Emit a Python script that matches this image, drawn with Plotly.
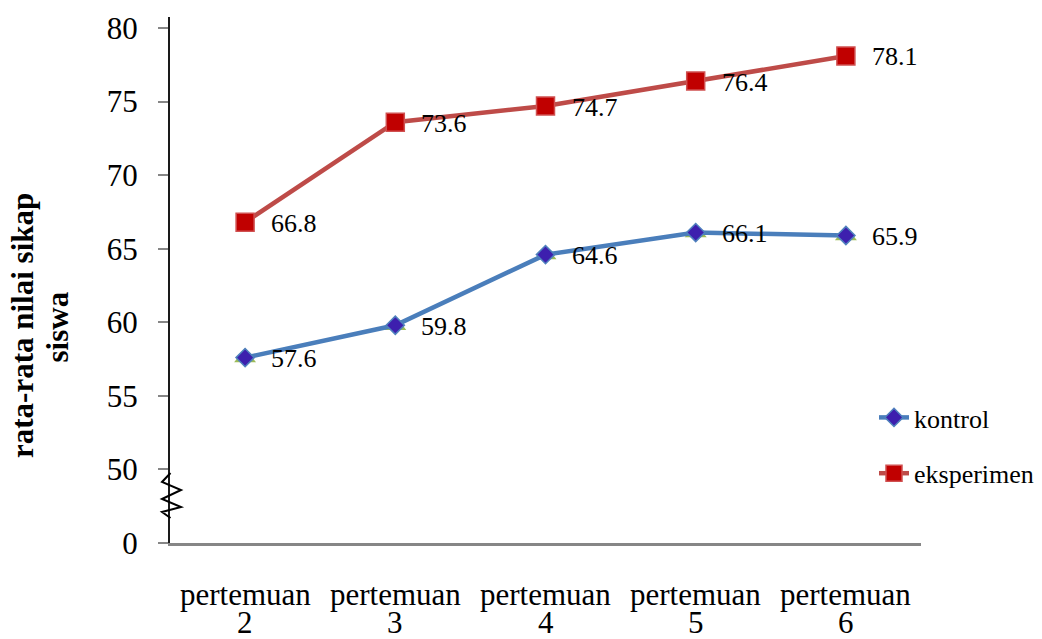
import plotly.graph_objects as go

categories = ["pertemuan 2", "pertemuan 3", "pertemuan 4", "pertemuan 5", "pertemuan 6"]
kontrol = [57.6, 59.8, 64.6, 66.1, 65.9]
eksperimen = [66.8, 73.6, 74.7, 76.4, 78.1]
ytick_vals = [45, 50, 55, 60, 65, 70, 75, 80]
ytick_text = ["0", "50", "55", "60", "65", "70", "75", "80"]

FONT = "Liberation Serif, Times New Roman, serif"
# page has an 8px body margin; figure is sized/offset to compensate
OFF = 8
W, H = 1042 - OFF, 639 - OFF
ML, MR, MT, MB = 170 - OFF, 121, 17 - OFF, 96
PW, PH = W - ML - MR, H - MT - MB


def px(x):
    """reference pixel x -> paper"""
    return (x - OFF - ML) / PW


def py(y):
    """reference pixel y -> paper"""
    return (H - MB - (y - OFF)) / PH


fig = go.Figure()

# hidden green triangle series sitting behind kontrol
fig.add_trace(go.Scatter(
    x=categories, y=kontrol, mode="markers", showlegend=False,
    marker=dict(symbol="triangle-up", size=19, color="#9bbb59", line=dict(width=0)),
    hoverinfo="skip"))

fig.add_trace(go.Scatter(
    x=categories, y=kontrol, mode="lines+markers", name="kontrol", legendgroup="a",
    line=dict(color="#4a7ebb", width=4.5),
    marker=dict(symbol="diamond", size=14, color="#3d1fae", line=dict(color="#4f81bd", width=1.5))))

fig.add_trace(go.Scatter(
    x=categories, y=eksperimen, mode="lines+markers", name="eksperimen", legendgroup="b",
    line=dict(color="#be4b48", width=4.5),
    marker=dict(symbol="square", size=18, color="#c00000", line=dict(color="#d05050", width=1.5))))

annotations = []
for series in (kontrol, eksperimen):
    for c, v in zip(categories, series):
        annotations.append(dict(x=c, y=v, xref="x", yref="y", text=f"{v:.1f}",
                                showarrow=False, xanchor="left", yanchor="middle",
                                xshift=24, yshift=-1,
                                font=dict(family=FONT, size=26, color="black")))

# two-line category labels
for c in categories:
    word, num = c.split(" ")
    annotations.append(dict(x=c, y=0, xref="x", yref="paper", text=word, showarrow=False,
                            xanchor="center", yanchor="middle", yshift=-51,
                            font=dict(family=FONT, size=31, color="black")))
    annotations.append(dict(x=c, y=0, xref="x", yref="paper", text=num, showarrow=False,
                            xanchor="center", yanchor="middle", yshift=-79,
                            font=dict(family=FONT, size=31, color="black")))

# y-axis title (two lines)
annotations.append(dict(x=px(22), y=py(326), xref="paper", yref="paper",
                        text="<b>rata-rata nilai sikap</b>", textangle=-90, showarrow=False,
                        xanchor="center", yanchor="middle",
                        font=dict(family=FONT, size=31, color="black")))
annotations.append(dict(x=px(56.5), y=py(327), xref="paper", yref="paper",
                        text="<b>siswa</b>", textangle=-90, showarrow=False,
                        xanchor="center", yanchor="middle",
                        font=dict(family=FONT, size=31, color="black")))

# axis break zigzag
pts = [(170.5, 473), (162, 482), (181, 490), (162, 499), (181, 507), (162, 512), (170.5, 518)]
path = "M " + " L ".join(f"{px(x)},{py(y)}" for x, y in pts)
shapes = [dict(type="path", xref="paper", yref="paper", path=path,
               line=dict(color="black", width=2))]

fig.update_layout(
    width=W, height=H,
    margin=dict(l=ML, r=MR, t=MT, b=MB, autoexpand=False),
    paper_bgcolor="white", plot_bgcolor="white",
    font=dict(family=FONT, color="black"),
    xaxis=dict(type="category", range=[-0.5, 4.5], showgrid=False, zeroline=False,
               showline=True, linecolor="#868686", linewidth=2.5,
               showticklabels=False, ticks=""),
    yaxis=dict(range=[45, 80.75], tickvals=ytick_vals, ticktext=ytick_text,
               showgrid=False, zeroline=False, showline=True, linecolor="#1a1a1a", linewidth=2,
               ticks="outside", ticklen=10, tickcolor="#868686", tickwidth=2,
               ticklabelstandoff=14,
               tickfont=dict(family=FONT, size=31, color="black")),
    legend=dict(x=px(874), y=py(394), xanchor="left", yanchor="top",
                bgcolor="rgba(0,0,0,0)", tracegroupgap=19,
                font=dict(family=FONT, size=26, color="black")),
    annotations=annotations,
    shapes=shapes,
    showlegend=True,
)

fig.write_html("out.html")
